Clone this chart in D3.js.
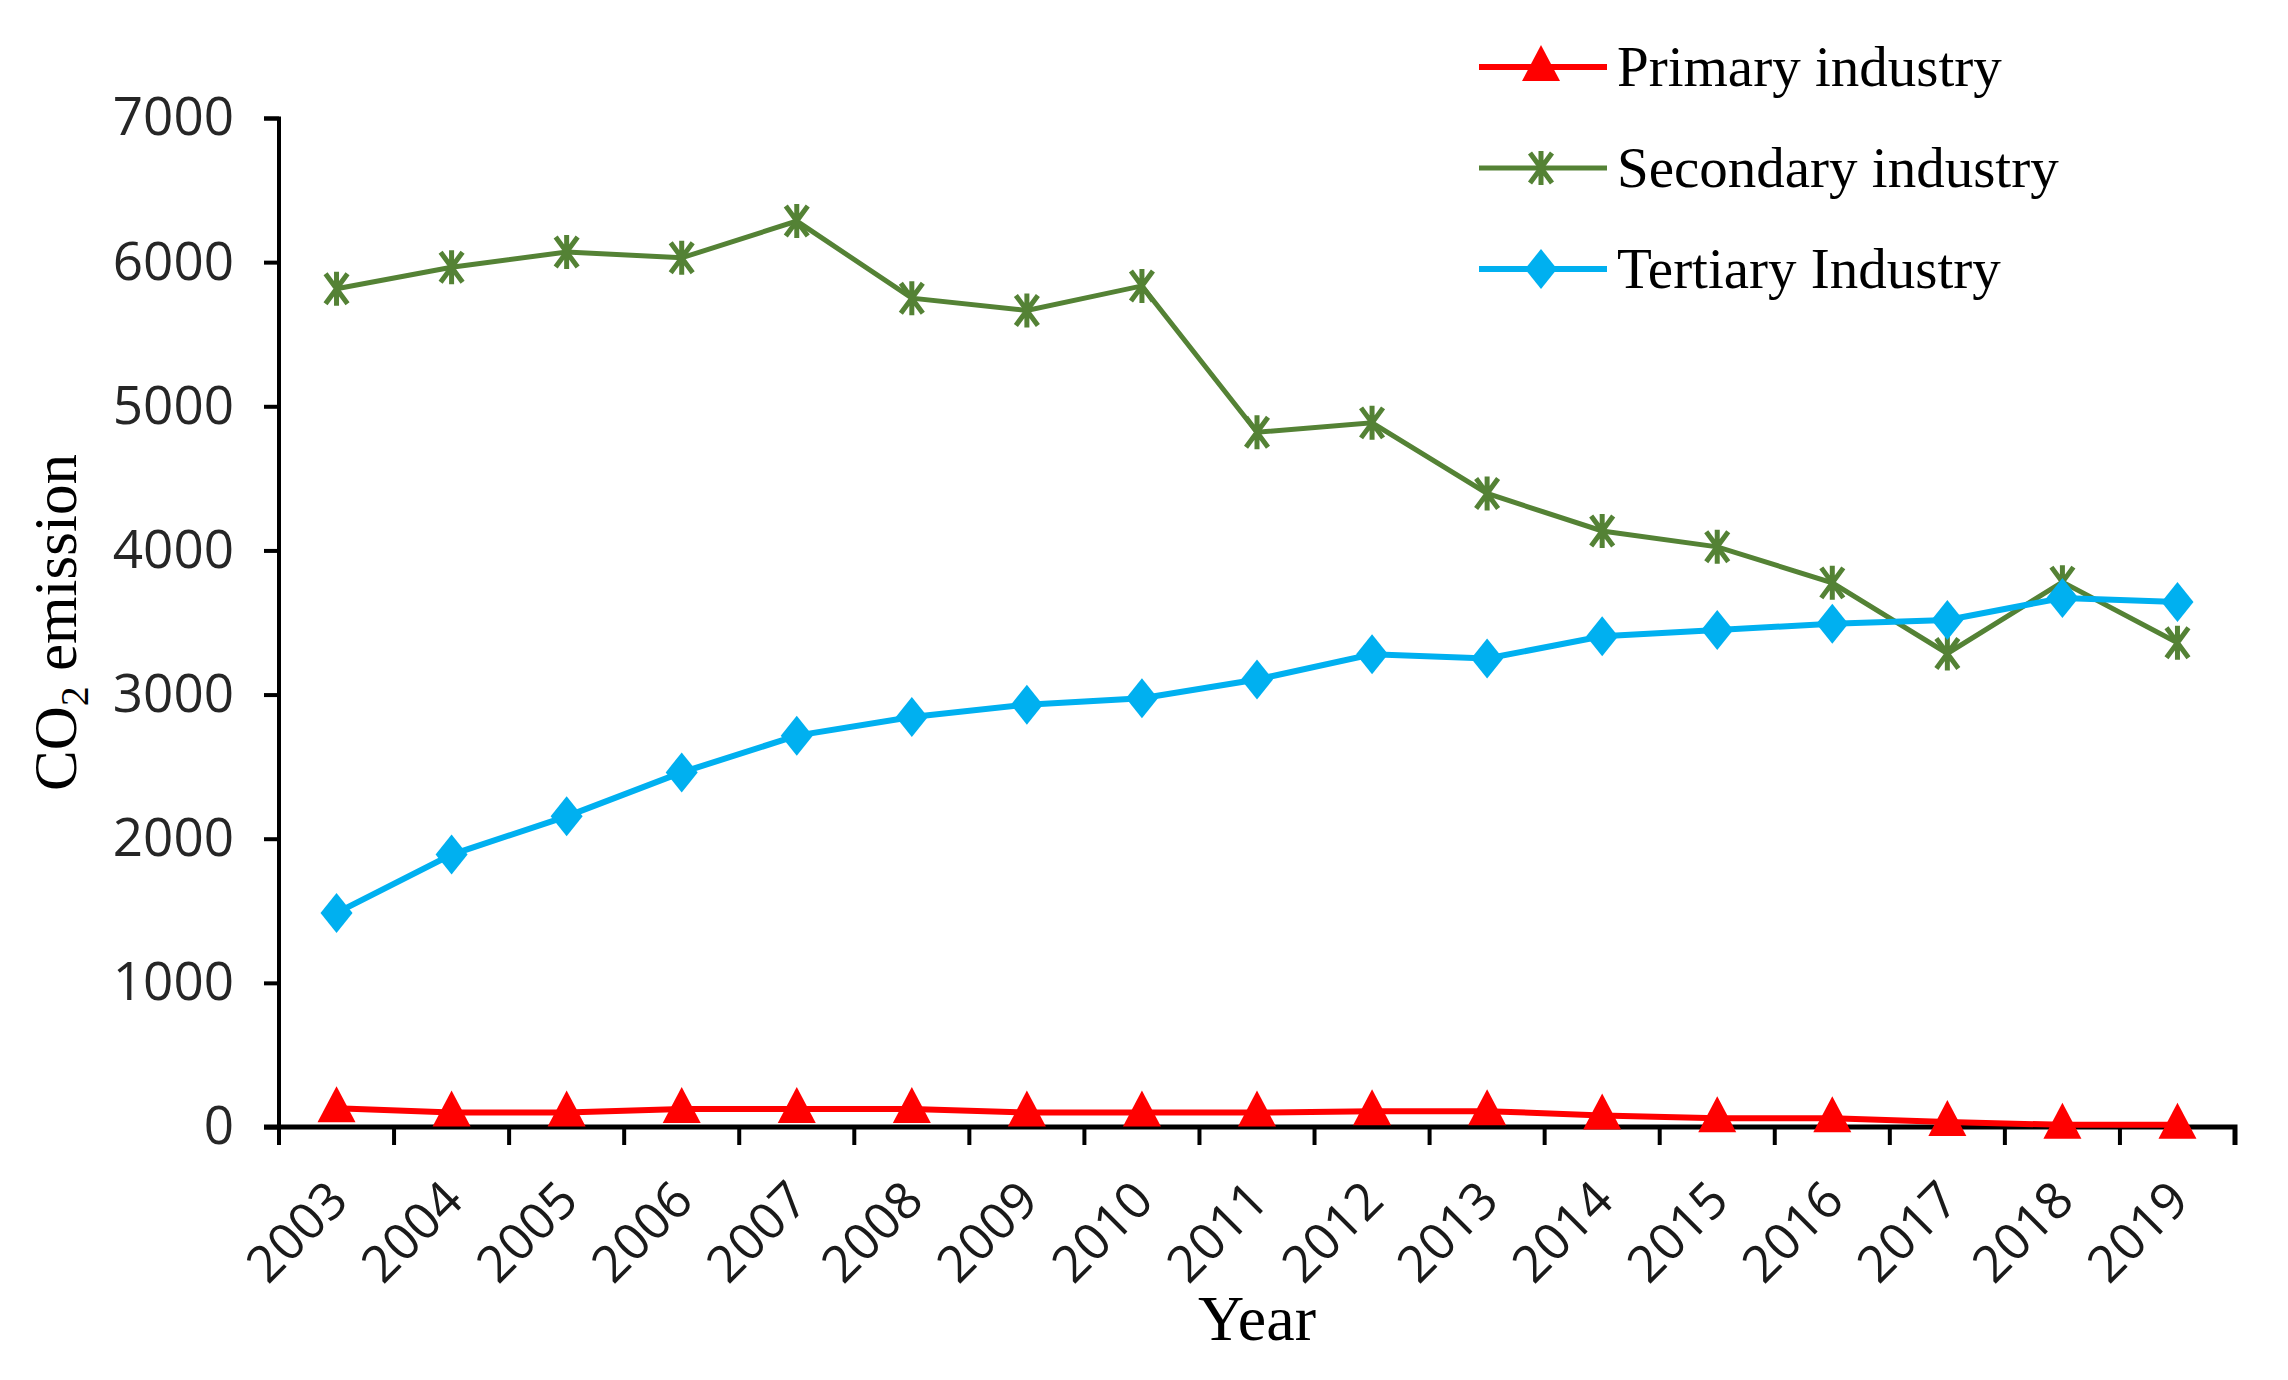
<!DOCTYPE html>
<html>
<head>
<meta charset="utf-8">
<script src="https://cdn.jsdelivr.net/npm/d3@7"></script>
<style>
  body { margin: 0; background: #fff; }
  svg { display: block; }
</style>
</head>
<body>
<div id="chart"></div>
<script>
var years = ["2003", "2004", "2005", "2006", "2007", "2008", "2009", "2010", "2011",
  "2012", "2013", "2014", "2015", "2016", "2017", "2018", "2019"];

var primary = [130, 100, 100, 125, 125, 125, 100, 100, 100, 110, 110, 80, 60, 60, 35, 15, 15];
var secondary = [5815, 5965, 6070, 6030, 6285, 5750, 5665, 5835, 4820, 4885, 4395, 4135, 4025, 3775, 3285, 3780, 3360];
var tertiary = [1485, 1890, 2155, 2460, 2715, 2845, 2930, 2975, 3105, 3280, 3250, 3405, 3448, 3492, 3518, 3670, 3642];

var yTicks = [0, 1000, 2000, 3000, 4000, 5000, 6000, 7000];
var seriesNames = ["Primary industry", "Secondary industry", "Tertiary Industry"];

var svgWidth = 2288;
var svgHeight = 1380;

var margin = { top: 118, right: 53, bottom: 253, left: 279 };
var width = svgWidth - margin.left - margin.right;
var height = svgHeight - margin.top - margin.bottom;

var svg = d3.select("#chart")
  .append("svg")
  .attr("width", svgWidth)
  .attr("height", svgHeight);

var chartGroup = svg.append("g")
  .attr("transform", `translate(${margin.left}, ${margin.top})`);

var xBand = d3.scaleBand()
  .domain(years)
  .range([0, width]);

var yLinearScale = d3.scaleLinear()
  .domain([0, 7000])
  .range([height, 0]);

var xCenter = d => xBand(d) + xBand.bandwidth() / 2;

// y axis
var leftAxis = d3.axisLeft(yLinearScale)
  .tickValues(yTicks)
  .tickSize(15)
  .tickPadding(30)
  .tickFormat(d3.format("d"));

var yAxis = chartGroup.append("g").call(leftAxis);
yAxis.select(".domain").attr("stroke", "#000").attr("stroke-width", 4)
  .attr("d", `M-15,0.5H0V${height}`);
yAxis.selectAll(".tick line").attr("stroke", "#000").attr("stroke-width", 4);
yAxis.selectAll(".tick text")
  .attr("font-family", "'Open Sans', sans-serif")
  .attr("font-size", 53)
  .attr("fill", "#262626");

// x axis, ticks at category boundaries
var bottomAxis = d3.axisBottom(xBand)
  .tickSize(0)
  .tickFormat("");

var xAxis = chartGroup.append("g")
  .attr("transform", `translate(0, ${height})`)
  .call(bottomAxis);
xAxis.select(".domain").attr("stroke", "#000").attr("stroke-width", 5)
  .attr("d", `M-15,0H${width}V18`);

var boundaries = years.map(d => xBand(d)).concat([width]);
xAxis.selectAll("line.bound")
  .data(boundaries)
  .enter()
  .append("line")
  .attr("class", "bound")
  .attr("x1", d => d)
  .attr("x2", d => d)
  .attr("y1", 0)
  .attr("y2", 18)
  .attr("stroke", "#000")
  .attr("stroke-width", 4);

xAxis.selectAll("text.year")
  .data(years)
  .enter()
  .append("text")
  .attr("class", "year")
  .attr("transform", d => `translate(${xCenter(d) + 14}, 76) rotate(-45)`)
  .attr("text-anchor", "end")
  .attr("font-family", "'Open Sans', sans-serif")
  .attr("font-size", 51)
  .attr("fill", "#1a1a1a")
  .text(d => d);

// axis titles
svg.append("text")
  .attr("x", margin.left + width / 2)
  .attr("y", 1340)
  .attr("text-anchor", "middle")
  .attr("font-family", "'Liberation Serif', 'Times New Roman', serif")
  .attr("font-size", 64)
  .attr("fill", "#000")
  .text("Year");

var yTitle = svg.append("text")
  .attr("transform", `translate(76, ${margin.top + height / 2}) rotate(-90)`)
  .attr("text-anchor", "middle")
  .attr("font-family", "'Liberation Serif', 'Times New Roman', serif")
  .attr("font-size", 61)
  .attr("fill", "#000");
yTitle.append("tspan").text("CO");
yTitle.append("tspan").attr("font-size", 40).attr("dy", 12).text("2");
yTitle.append("tspan").attr("dy", -12).text(" emission");

// series
var colors = ["#FF0000", "#548235", "#00B0F0"];
var widths = [6, 5, 6];
var allSeries = [primary, secondary, tertiary];

var line = d3.line()
  .x((d, i) => xCenter(years[i]))
  .y(d => yLinearScale(d));

function drawMarker(g, kind, color) {
  if (kind === 0) {
    g.append("path").attr("d", "M0,-22L19,14L-19,14Z").attr("fill", color);
  } else if (kind === 1) {
    g.append("path")
      .attr("d", "M-11,-15L11,15M11,-15L-11,15M0,-17V17")
      .attr("stroke", color)
      .attr("stroke-width", 5)
      .attr("fill", "none");
  } else {
    g.append("path").attr("d", "M0,-20L16,0L0,20L-16,0Z").attr("fill", color);
  }
}

allSeries.forEach(function(values, k) {
  chartGroup.append("path")
    .datum(values)
    .attr("d", line)
    .attr("fill", "none")
    .attr("stroke", colors[k])
    .attr("stroke-width", widths[k]);

  values.forEach(function(v, i) {
    var g = chartGroup.append("g")
      .attr("transform", `translate(${xCenter(years[i])}, ${yLinearScale(v)})`);
    drawMarker(g, k, colors[k]);
  });
});

// legend
var legendRows = [67, 168, 269];
seriesNames.forEach(function(name, k) {
  var lg = svg.append("g").attr("transform", `translate(1479, ${legendRows[k]})`);
  lg.append("line")
    .attr("x1", 0).attr("x2", 128)
    .attr("y1", 0).attr("y2", 0)
    .attr("stroke", colors[k])
    .attr("stroke-width", widths[k]);
  var m = lg.append("g").attr("transform", "translate(62, 0)");
  drawMarker(m, k, colors[k]);
  lg.append("text")
    .attr("x", 138)
    .attr("y", 19)
    .attr("font-family", "'Liberation Serif', 'Times New Roman', serif")
    .attr("font-size", 57)
    .attr("fill", "#000")
    .text(name);
});
</script>
</body>
</html>
